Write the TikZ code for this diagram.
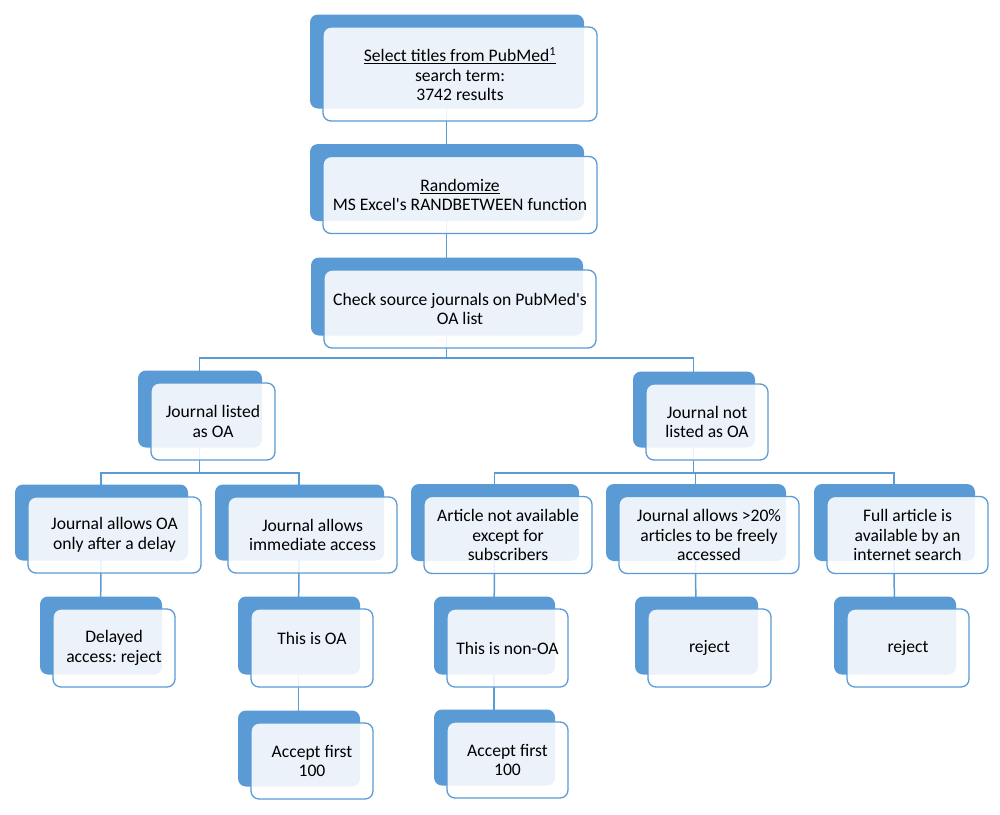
\documentclass[tikz,border=0pt]{standalone}
\usepackage{fontspec}
\setmainfont{Carlito}
\frenchspacing
\definecolor{boxblue}{HTML}{5B9BD5}
\usetikzlibrary{
  shadows,
  backgrounds
}
\tikzset{
  every picture/.style={line cap=round, line join=round},
  card/.style={
    draw=boxblue,
    line width=1.3pt,
    fill=white,
    fill opacity=0.88,
    text opacity=1,
    rounded corners=8pt,
    align=center,
    inner sep=2pt,
    font=\fontsize{17.6}{19.6}\selectfont,
    copy shadow={shadow xshift=-13pt, shadow yshift=12.5pt, fill=boxblue, draw=none, opacity=1}
  },
  link/.style={draw=boxblue, line width=1.5pt}
}

\begin{document}
\begin{tikzpicture}[x=1pt, y=-1pt]
  \useasboundingbox (0,0) rectangle (1000,814);

  % Search and randomisation
  \node[card, minimum width=274pt, minimum height=94pt] (sel) at (460,74)
    {\underline{Select titles from PubMed\textsuperscript{1}}\\search term:\\3742 results};
  \node[card, minimum width=274pt, minimum height=77pt] (rnd) at (460,195)
    {\underline{Randomize}\\MS Excel\textquotesingle s RANDBETWEEN function};
  \node[card, minimum width=272pt, minimum height=78pt] (chk) at (460,309)
    {Check source journals on PubMed\textquotesingle s\\OA list};

  % OA status of the journal
  \node[card, minimum width=124pt, minimum height=77pt] (lst) at (213,421.5) {Journal listed\\as OA};
  \node[card, minimum width=122pt, minimum height=76pt] (nls) at (707,422) {Journal not\\listed as OA};

  % Access conditions
  \node[card, minimum width=173pt, minimum height=76pt] (dly) at (114.5,535) {Journal allows OA\\only after a delay};
  \node[card, minimum width=169pt, minimum height=76pt] (imm) at (312.5,535) {Journal allows\\immediate access};
  \node[card, minimum width=168pt, minimum height=77pt] (sub) at (508,535) {Article not available\\except for\\subscribers};
  \node[card, minimum width=180pt, minimum height=77pt] (pct) at (709,535) {Journal allows >20\%\\articles to be freely\\accessed};
  \node[card, minimum width=161pt, minimum height=77pt] (web) at (907.5,535) {Full article is\\available by an\\internet search};

  % Outcomes
  \node[card, minimum width=122pt, minimum height=78pt] (rej1) at (114,648) {Delayed\\access: reject};
  \node[card, minimum width=122pt, minimum height=78pt] (oa) at (312,648) {This is OA\\\mbox{}};
  \node[card, minimum width=121pt, minimum height=78pt] (non) at (507.5,648) {This is non-OA};
  \node[card, minimum width=123pt, minimum height=78pt] (rej2) at (709.5,648) {reject};
  \node[card, minimum width=122pt, minimum height=78pt] (rej3) at (908,648) {reject};
  \node[card, minimum width=122pt, minimum height=76pt] (acc1) at (312,761) {Accept first\\100};
  \node[card, minimum width=121pt, minimum height=76pt] (acc2) at (507.5,760) {Accept first\\100};

  \begin{scope}[on background layer]
    \fill[white] (0,0) rectangle (1000,814);
    % Straight links
    \draw[link] ([xshift=-13.5pt]sel.center) -- ([xshift=-13.5pt]rnd.center);
    \draw[link] ([xshift=-13.5pt]rnd.center) -- ([xshift=-13.5pt]chk.center);
    \draw[link] ([xshift=-13.5pt]dly.center) -- ([xshift=-13.5pt]rej1.center);
    \draw[link] ([xshift=-13.5pt]imm.center) -- ([xshift=-13.5pt]oa.center);
    \draw[link] ([xshift=-13.5pt]oa.center) -- ([xshift=-13.5pt]acc1.center);
    \draw[link] ([xshift=-13.5pt]sub.center) -- ([xshift=-13.5pt]non.center);
    \draw[link] ([xshift=-13.5pt]non.center) -- ([xshift=-13.5pt]acc2.center);
    \draw[link] ([xshift=-13.5pt]pct.center) -- ([xshift=-13.5pt]rej2.center);
    \draw[link] ([xshift=-13.5pt]web.center) -- ([xshift=-13.5pt]rej3.center);
    % Forks
    \draw[link] ([xshift=-13.5pt]chk.center) -- ++(0,49) coordinate (fk1);
    \draw[link] (fk1) -| ([xshift=-13.5pt]lst.center);
    \draw[link] (fk1) -| ([xshift=-13.5pt]nls.center);
    \draw[link] ([xshift=-13.5pt]lst.center) -- ++(0,51.5) coordinate (fk2);
    \draw[link] (fk2) -| ([xshift=-13.5pt]dly.center);
    \draw[link] (fk2) -| ([xshift=-13.5pt]imm.center);
    \draw[link] ([xshift=-13.5pt]nls.center) -- ++(0,51) coordinate (fk3);
    \draw[link] (fk3) -| ([xshift=-13.5pt]sub.center);
    \draw[link] (fk3) -| ([xshift=-13.5pt]pct.center);
    \draw[link] (fk3) -| ([xshift=-13.5pt]web.center);
  \end{scope}
\end{tikzpicture}
\end{document}
